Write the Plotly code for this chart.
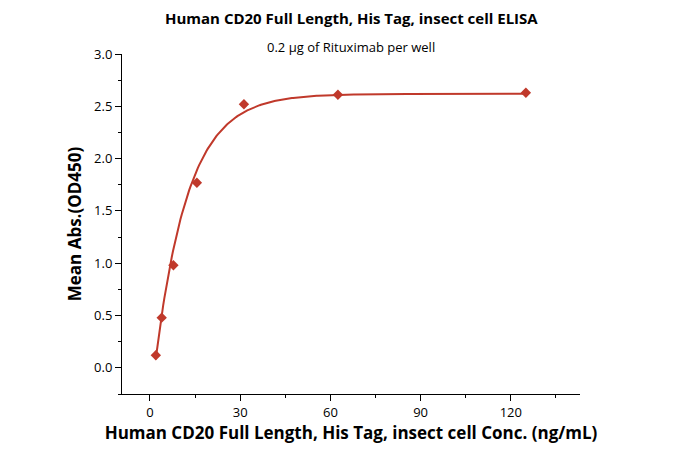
import numpy as np
import plotly.graph_objects as go

conc = [1.95, 3.9, 7.8, 15.6, 31.25, 62.5, 125]
od = [0.12, 0.48, 0.98, 1.77, 2.52, 2.61, 2.63]
# fitted model parameters
top, x0, tau = 2.62, 1.55, 11.0
xf = np.linspace(1.9, 125, 300)
yf = top * (1 - np.exp(-(xf - x0) / tau))

red = "#c0392b"
fig = go.Figure()
fig.add_trace(go.Scatter(x=xf, y=yf, mode="lines", line=dict(color=red, width=2), hoverinfo="skip"))
fig.add_trace(go.Scatter(x=conc, y=od, mode="markers",
                         marker=dict(symbol="diamond", size=8, color=red)))
ax = dict(showline=True, linecolor="black", linewidth=1, ticks="outside", ticklen=6,
          tickcolor="black", showgrid=False, zeroline=False, mirror=False,
          tickfont=dict(family="Open Sans", size=13, color="black"),
          minor=dict(ticks="outside", ticklen=3, tickcolor="black"))
fig.update_xaxes(**ax, range=[-9.3, 143], tickvals=[0, 30, 60, 90, 120], minor_dtick=15,
                 title=dict(text="<b>Human CD20 Full Length, His Tag, insect cell Conc. (ng/mL)</b>",
                            font=dict(family="Open Sans", size=17, color="black"), standoff=2))
fig.update_yaxes(**ax, range=[-0.25, 3.0], tickvals=[0, 0.5, 1, 1.5, 2, 2.5, 3], tickformat=".1f",
                 minor_dtick=0.25,
                 title=dict(text="<b>Mean Abs.(OD450)</b>",
                            font=dict(family="Open Sans", size=17, color="black"), standoff=8))
fig.update_layout(width=673, height=472, plot_bgcolor="white", paper_bgcolor="white",
                  showlegend=False, margin=dict(l=114, r=101, t=46, b=86),
                  annotations=[
                      dict(text="<b>Human CD20 Full Length, His Tag, insect cell ELISA</b>", x=0.5, y=1,
                           xref="paper", yref="paper", xanchor="center", yanchor="bottom",
                           yshift=24, showarrow=False,
                           font=dict(family="Open Sans", size=15, color="black")),
                      dict(text="0.2 μg of Rituximab per well", x=0.5, y=1, xref="paper", yref="paper",
                           xanchor="center", yanchor="bottom", yshift=-4, showarrow=False,
                           font=dict(family="Open Sans", size=13, color="black"))])
fig.write_html("out.html")
